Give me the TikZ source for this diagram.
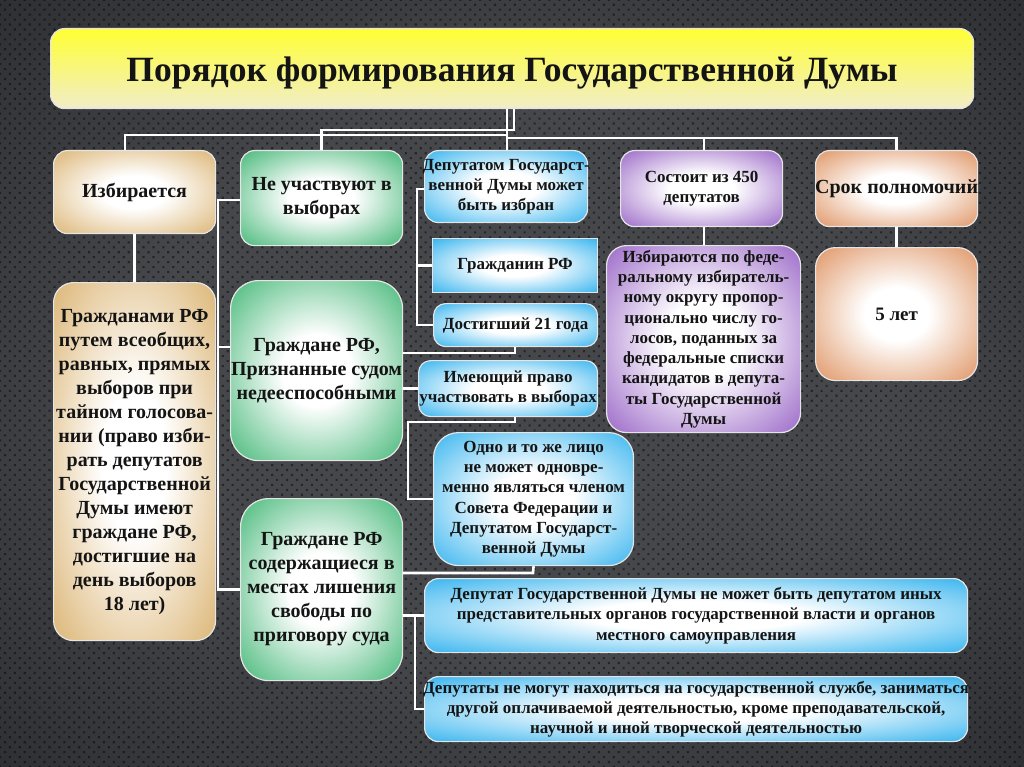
\documentclass[tikz,border=0pt]{standalone}
\usepackage{fontspec}
\setmainfont{Liberation Serif}
\usetikzlibrary{patterns.meta,calc}
\definecolor{bgin}{HTML}{46474B}
\definecolor{bgout}{HTML}{1B1C20}
\definecolor{tanc}{HTML}{D6A95E}
\definecolor{greenc}{HTML}{27AC62}
\definecolor{bluec}{HTML}{16A8EC}
\definecolor{purc}{HTML}{8A4FBE}
\definecolor{orc}{HTML}{DA844C}
\definecolor{ttop}{HTML}{FFFF33}
\definecolor{tbot}{HTML}{F1EDC9}
\pgfdeclareradialshading{bgrad}{\pgfpoint{0bp}{0bp}}{color(0bp)=(bgin); color(18bp)=(bgin); color(50bp)=(bgout)}
\newcommand\mkrad[2]{\pgfdeclareradialshading{#1}{\pgfpoint{0bp}{0bp}}{color(0bp)=(white); color(10bp)=(white); color(40bp)=(#2); color(50bp)=(#2)}}
\mkrad{tanrad}{tanc}
\mkrad{greenrad}{greenc}
\mkrad{bluerad}{bluec}
\mkrad{purrad}{purc}
\mkrad{orrad}{orc}
\tikzset{
  box/.style={anchor=north west, draw=white!80!gray, line width=1.2pt, rounded corners=14pt,
    align=center, inner xsep=-6pt, inner ysep=1pt, text=black!92, font=\bfseries\fontsize{20}{24}\selectfont},
  tanbox/.style={box, shade, shading=tanrad},
  greenbox/.style={box, shade, shading=greenrad},
  bluebox/.style={box, shade, shading=bluerad, font=\bfseries\fontsize{17}{20.3}\selectfont},
  purbox/.style={box, shade, shading=purrad, font=\bfseries\fontsize{17}{20.3}\selectfont},
  orbox/.style={box, shade, shading=orrad, font=\bfseries\fontsize{20}{24}\selectfont},
  conn/.style={draw=white, line width=2.6pt},
}
\begin{document}
\begin{tikzpicture}[x=1pt,y=-1pt]
\useasboundingbox (0,0) rectangle (1024,767);
\shade[shading=bgrad] (0,0) rectangle (1024,767);
\fill[pattern={Dots[distance=7pt,radius=1.5pt,angle=45]}, pattern color=black, opacity=0.45] (0,0) rectangle (1024,767);

% title
\node[box, rounded corners=14pt, top color=ttop, bottom color=tbot, minimum width=923pt, minimum height=80pt] (title) at (50,28) {};
\node[font=\bfseries\fontsize{35.5}{40}\selectfont, text=black!92] (titletext) at ($(title.center)+(0,4)$) {Порядок формирования Государственной Думы};

% top row
\node[tanbox, minimum width=162pt, minimum height=83pt] (izb) at (53,150) {Избирается};
\node[greenbox, minimum width=162pt, minimum height=95pt] (nu) at (240,150) {Не участвуют в\\выборах};
\node[bluebox, minimum width=163pt, minimum height=72pt] (dep) at (424,150) {Депутатом Государст-\\венной Думы может\\быть избран};
\node[purbox, minimum width=162pt, minimum height=76pt] (sost) at (620,150) {Состоит из 450\\депутатов};
\node[orbox, minimum width=162pt, minimum height=76pt] (srok) at (815,150) {Срок полномочий};

% left columns
\node[tanbox, rounded corners=20pt, minimum width=162pt, minimum height=358pt] (grazh) at (53,282)
  {Гражданами РФ\\путем всеобщих,\\равных, прямых\\выборов при\\тайном голосова-\\нии (право изби-\\рать депутатов\\Государственной\\Думы имеют\\граждане РФ,\\достигшие на\\день выборов\\18 лет)};
\node[greenbox, rounded corners=28pt, minimum width=172pt, minimum height=180pt] (priz) at (230,280)
  {Граждане РФ,\\Признанные судом\\недееспособными};
\node[greenbox, rounded corners=28pt, minimum width=162pt, minimum height=182pt] (sod) at (240,498)
  {Граждане РФ\\содержащиеся в\\местах лишения\\свободы по\\приговору суда};

% blue column
\node[bluebox, rounded corners=0pt, minimum width=165pt, minimum height=54pt] (gr) at (432,238) {Гражданин РФ};
\node[bluebox, rounded corners=12pt, minimum width=164pt, minimum height=43pt] (dost) at (433,303) {Достигший 21 года};
\node[bluebox, rounded corners=12pt, minimum width=179pt, minimum height=56pt] (imp) at (418,360) {Имеющий право\\участвовать в выборах};
\node[bluebox, rounded corners=25pt, minimum width=200pt, minimum height=133pt] (odno) at (433,432)
  {Одно и то же лицо\\не может одновре-\\менно являться членом\\Совета Федерации и\\Депутатом Государст-\\венной Думы};
\node[bluebox, minimum width=543pt, minimum height=74pt] (dpt) at (424,578)
  {Депутат Государственной Думы не может быть депутатом иных\\представительных органов государственной власти и органов\\местного самоуправления};
\node[bluebox, minimum width=543pt, minimum height=65pt] (dpts) at (424,676)
  {Депутаты не могут находиться на государственной службе, заниматься\\другой оплачиваемой деятельностью, кроме преподавательской,\\научной и иной творческой деятельностью};

% right columns
\node[purbox, rounded corners=20pt, minimum width=194pt, minimum height=187pt] (izb2) at (606,245)
  {Избираются по феде-\\ральному избиратель-\\ному округу пропор-\\ционально числу го-\\лосов, поданных за\\федеральные списки\\кандидатов в депута-\\ты Государственной\\Думы};
\node[orbox, rounded corners=20pt, minimum width=162pt, minimum height=133pt, font=\bfseries\fontsize{19}{23}\selectfont] (let5) at (815,247) {5 лет};

% connectors: title tree
\coordinate (v1) at (507,138);
\coordinate (v2) at (514,130);
\coordinate (hl) at (125,135);
\coordinate (sx) at (704,138);
\draw[conn] (v1 |- title.south) -- (v1) -- (v1 |- dep.north);
\draw[conn] (v2 |- title.south) -- (v2) -- (v2 -| nu.north) -- (nu.north);
\draw[conn] (v1 |- hl) -- (hl) -- (hl |- izb.north);
\draw[conn] (v1) -- (v1 -| srok.north) -- (srok.north);
\draw[conn] (sx) -- (sx |- sost.north);

% left
\draw[conn] (izb) -- (grazh);
\coordinate (nv) at (218,200);
\coordinate (py) at (0,347);
\draw[conn] (nu.west |- nv) -- (nv) -- (nv |- sod.west) -- (sod.west);
\draw[conn] (nv |- py) -- (priz.west |- py);

% blue column
\coordinate (bv) at (417,189);
\draw[conn] (dep.west |- bv) -- (bv) -- (bv |- dost.west) -- (dost.west);
\draw[conn] (bv |- gr.west) -- (gr.west);
\coordinate (c1) at (515,353);
\draw[conn] (priz.east |- c1) -- (c1) -- (c1 |- dost.south);
\draw[conn] (priz.east |- imp.west) -- (imp.west);
\coordinate (c2) at (408,422);
\draw[conn] (c1 |- imp.south) -- (c1 |- c2) -- (c2) -- (c2 |- odno.west) -- (odno.west);
\coordinate (c3) at (533,573);
\draw[conn] (odno.south) -- (c3) -- (sod.east |- c3);
\coordinate (c4) at (415,615);
\draw[conn] (sod.east |- dpt.west) -- (dpt.west);
\draw[conn] (c4) -- (c4 |- dpts.west) -- (dpts.west);

% right
\coordinate (px) at (704,0);
\draw[conn] (px |- sost.south) -- (px |- izb2.north);
\draw[conn] (srok) -- (let5);
\end{tikzpicture}
\end{document}
